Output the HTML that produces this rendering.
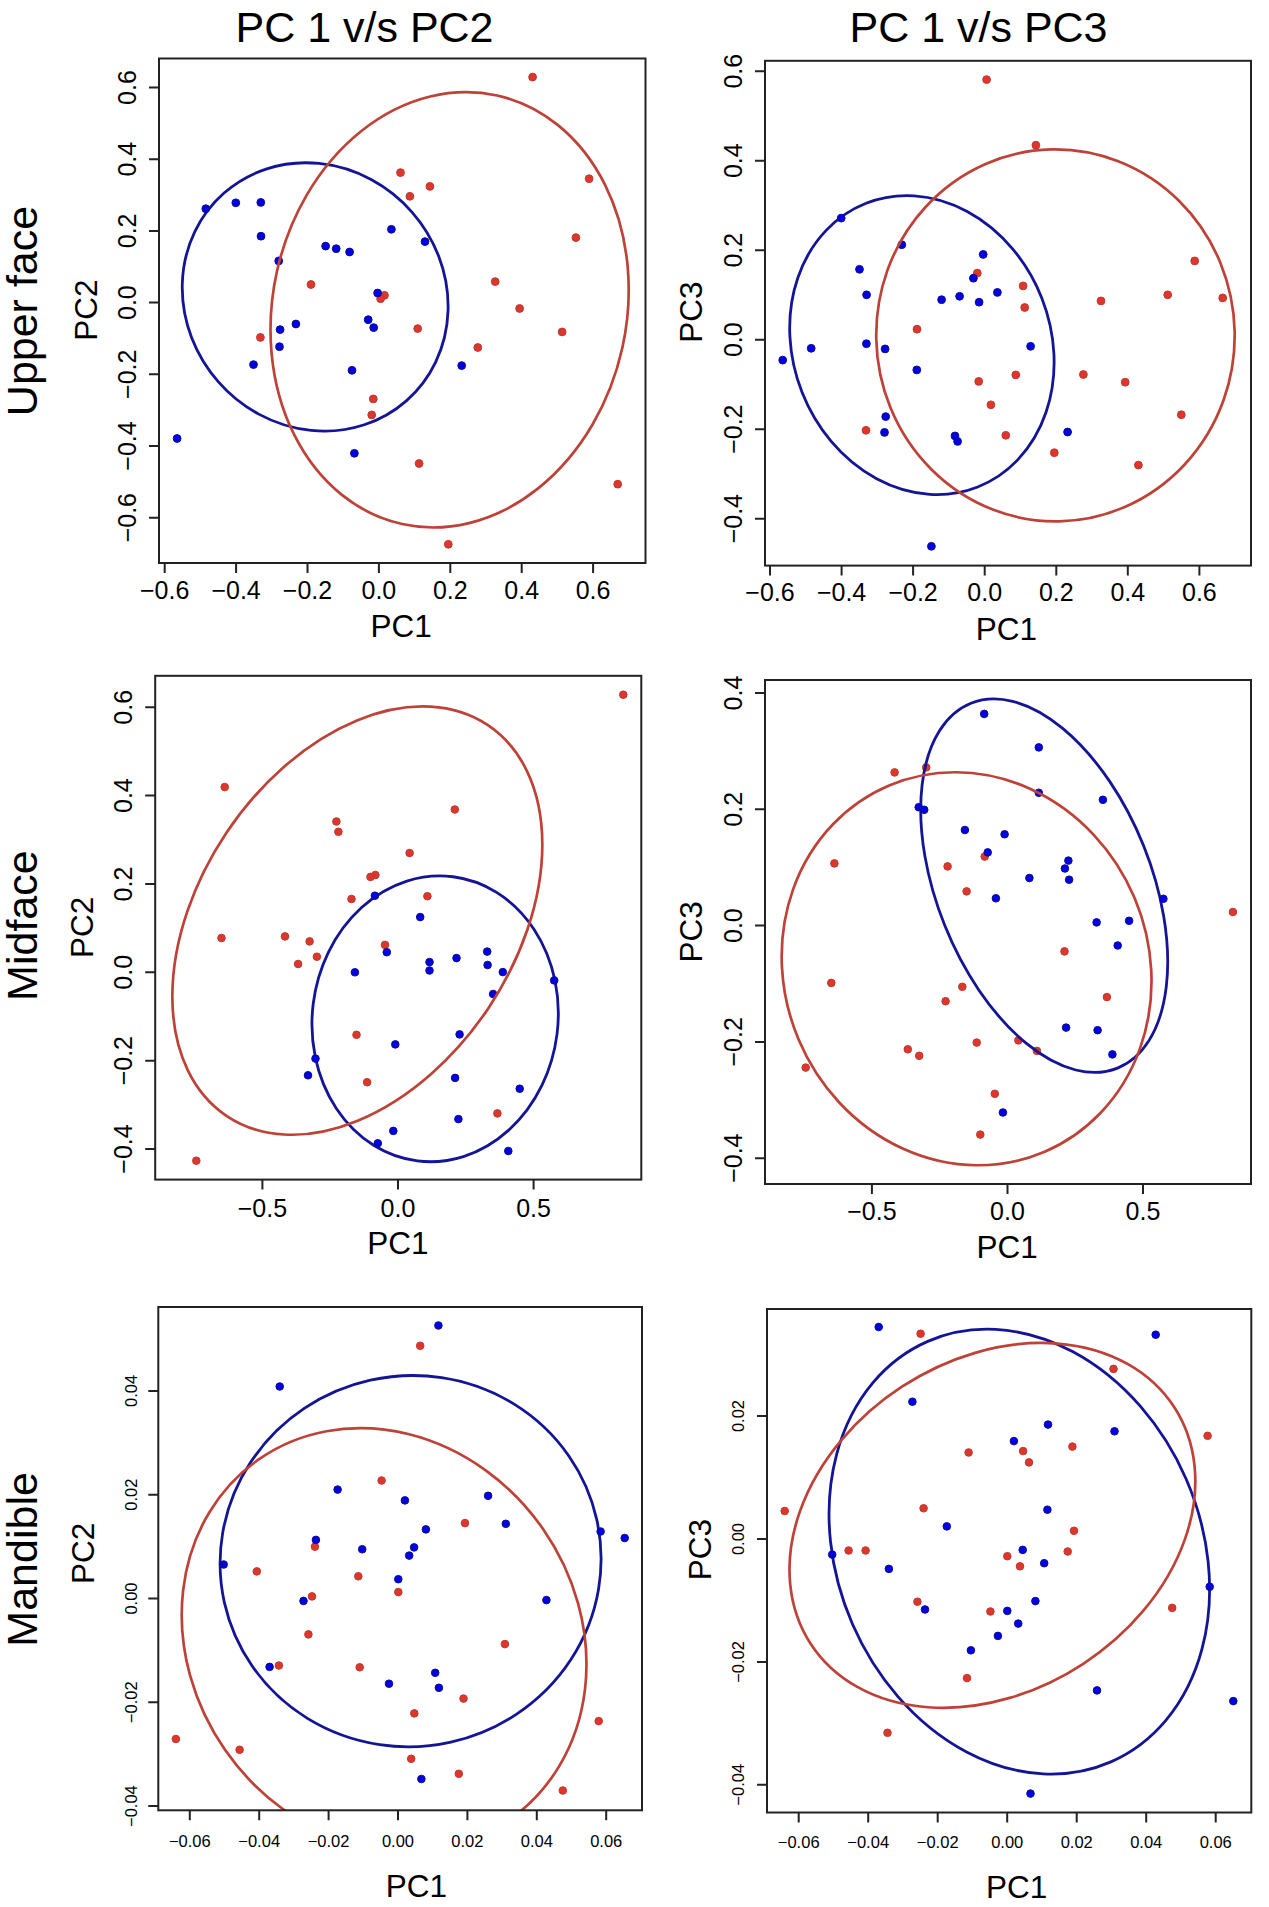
<!DOCTYPE html>
<html><head><meta charset="utf-8"><style>html,body{margin:0;padding:0;background:#fff;}svg{display:block;}text{font-family:"Liberation Sans",sans-serif;}</style></head>
<body>
<svg width="1269" height="1907" viewBox="0 0 1269 1907">
<rect width="100%" height="100%" fill="#fff"/>
<defs>
<clipPath id="cp1"><rect x="159" y="58.5" width="486.5" height="504.5"/></clipPath>
<clipPath id="cp2"><rect x="765" y="60.8" width="486.0" height="504.8"/></clipPath>
<clipPath id="cp3"><rect x="155.2" y="675.8" width="486.1" height="503.8"/></clipPath>
<clipPath id="cp4"><rect x="765" y="680" width="486.0" height="504.0"/></clipPath>
<clipPath id="cp5"><rect x="158.3" y="1307" width="483.7" height="503.3"/></clipPath>
<clipPath id="cp6"><rect x="767" y="1309" width="484.3" height="503.5"/></clipPath>
</defs>
<g fill="#000">
<text x="364.5" y="42.1" font-size="43" text-anchor="middle">PC 1 v/s PC2</text>
<text x="978.5" y="42.1" font-size="43" text-anchor="middle">PC 1 v/s PC3</text>
<text transform="translate(36.8,311) rotate(-90)" font-size="43" text-anchor="middle">Upper face</text>
<text transform="translate(36.8,925.6) rotate(-90)" font-size="43" text-anchor="middle">Midface</text>
<text transform="translate(36.8,1559.4) rotate(-90)" font-size="43" text-anchor="middle">Mandible</text>
</g>
<g fill="#e0352a" stroke="#b83c34" stroke-width="1">
<circle cx="400.5" cy="172.6" r="3.9000000000000004"/>
<circle cx="311" cy="284.5" r="3.9000000000000004"/>
<circle cx="384.5" cy="295.3" r="3.9000000000000004"/>
<circle cx="380.6" cy="298.7" r="3.9000000000000004"/>
<circle cx="532.6" cy="77.1" r="3.9000000000000004"/>
<circle cx="429.9" cy="186.4" r="3.9000000000000004"/>
<circle cx="409.9" cy="196.3" r="3.9000000000000004"/>
<circle cx="589.1" cy="178.7" r="3.9000000000000004"/>
<circle cx="575.9" cy="237.6" r="3.9000000000000004"/>
<circle cx="495.2" cy="281.6" r="3.9000000000000004"/>
<circle cx="260.4" cy="337.4" r="3.9000000000000004"/>
<circle cx="373.3" cy="398.9" r="3.9000000000000004"/>
<circle cx="371.7" cy="414.9" r="3.9000000000000004"/>
<circle cx="417.7" cy="328.6" r="3.9000000000000004"/>
<circle cx="519.6" cy="308.5" r="3.9000000000000004"/>
<circle cx="562.1" cy="331.9" r="3.9000000000000004"/>
<circle cx="477.8" cy="347.5" r="3.9000000000000004"/>
<circle cx="419.1" cy="463.5" r="3.9000000000000004"/>
<circle cx="617.7" cy="484.2" r="3.9000000000000004"/>
<circle cx="448.3" cy="544.3" r="3.9000000000000004"/>
</g>
<g clip-path="url(#cp1)"><ellipse cx="315.18" cy="296.95" rx="128.74" ry="138.19" transform="rotate(138.74 315.18 296.95)" fill="none" stroke="#141496" stroke-width="2.8"/></g>
<g fill="#0000e2" stroke="#0c0c96" stroke-width="1">
<circle cx="205.8" cy="208.7" r="3.9000000000000004"/>
<circle cx="235.8" cy="202.8" r="3.9000000000000004"/>
<circle cx="260.8" cy="202.4" r="3.9000000000000004"/>
<circle cx="261" cy="236.2" r="3.9000000000000004"/>
<circle cx="278.7" cy="260.9" r="3.9000000000000004"/>
<circle cx="325.6" cy="246.1" r="3.9000000000000004"/>
<circle cx="336.2" cy="248.7" r="3.9000000000000004"/>
<circle cx="349.6" cy="252" r="3.9000000000000004"/>
<circle cx="391.4" cy="229.3" r="3.9000000000000004"/>
<circle cx="377.6" cy="293" r="3.9000000000000004"/>
<circle cx="425" cy="241.6" r="3.9000000000000004"/>
<circle cx="295.9" cy="324" r="3.9000000000000004"/>
<circle cx="280.1" cy="329.6" r="3.9000000000000004"/>
<circle cx="279.5" cy="346.7" r="3.9000000000000004"/>
<circle cx="253.5" cy="364.6" r="3.9000000000000004"/>
<circle cx="368.2" cy="319.7" r="3.9000000000000004"/>
<circle cx="373.7" cy="327.6" r="3.9000000000000004"/>
<circle cx="352" cy="370.3" r="3.9000000000000004"/>
<circle cx="177.1" cy="438.5" r="3.9000000000000004"/>
<circle cx="354.4" cy="453.3" r="3.9000000000000004"/>
<circle cx="461.7" cy="365.6" r="3.9000000000000004"/>
</g>
<g clip-path="url(#cp1)"><ellipse cx="449.61" cy="309.79" rx="176.88" ry="219.46" transform="rotate(-167.50 449.61 309.79)" fill="none" stroke="#be4237" stroke-width="2.7"/></g>
<rect x="159" y="58.5" width="486.5" height="504.5" fill="none" stroke="#222" stroke-width="2.0"/>
<path d="M149,87.5H159M149,159.2H159M149,230.9H159M149,302.6H159M149,374.3H159M149,446.0H159M149,517.7H159M164.7,563V573M236.1,563V573M307.5,563V573M378.9,563V573M450.3,563V573M521.7,563V573M593.1,563V573" stroke="#222" stroke-width="2.0" fill="none"/>
<g font-size="25" fill="#000" text-anchor="middle">
<text x="164.7" y="598.5">−0.6</text>
<text x="236.1" y="598.5">−0.4</text>
<text x="307.5" y="598.5">−0.2</text>
<text x="378.9" y="598.5">0.0</text>
<text x="450.3" y="598.5">0.2</text>
<text x="521.7" y="598.5">0.4</text>
<text x="593.1" y="598.5">0.6</text>
<text transform="translate(136.3,87.5) rotate(-90)">0.6</text>
<text transform="translate(136.3,159.2) rotate(-90)">0.4</text>
<text transform="translate(136.3,230.9) rotate(-90)">0.2</text>
<text transform="translate(136.3,302.6) rotate(-90)">0.0</text>
<text transform="translate(136.3,374.3) rotate(-90)">−0.2</text>
<text transform="translate(136.3,446.0) rotate(-90)">−0.4</text>
<text transform="translate(136.3,517.7) rotate(-90)">−0.6</text>
</g>
<text font-size="31.5" text-anchor="middle" transform="translate(96.8,310.2) rotate(-90)">PC2</text>
<text font-size="31.5" text-anchor="middle" x="401.2" y="636.8">PC1</text>
<g fill="#e0352a" stroke="#b83c34" stroke-width="1">
<circle cx="986.6" cy="79.6" r="3.9000000000000004"/>
<circle cx="977.3" cy="273.1" r="3.9000000000000004"/>
<circle cx="1035.9" cy="145.2" r="3.9000000000000004"/>
<circle cx="1194.7" cy="260.9" r="3.9000000000000004"/>
<circle cx="1023.1" cy="285.9" r="3.9000000000000004"/>
<circle cx="1101" cy="300.9" r="3.9000000000000004"/>
<circle cx="1167.7" cy="294.8" r="3.9000000000000004"/>
<circle cx="1222.7" cy="297.9" r="3.9000000000000004"/>
<circle cx="1024.7" cy="307.5" r="3.9000000000000004"/>
<circle cx="917" cy="329.2" r="3.9000000000000004"/>
<circle cx="978.7" cy="381.4" r="3.9000000000000004"/>
<circle cx="990.9" cy="404.8" r="3.9000000000000004"/>
<circle cx="866" cy="430.3" r="3.9000000000000004"/>
<circle cx="1005.8" cy="435.3" r="3.9000000000000004"/>
<circle cx="1015.8" cy="374.9" r="3.9000000000000004"/>
<circle cx="1083.4" cy="374.5" r="3.9000000000000004"/>
<circle cx="1125.2" cy="382.2" r="3.9000000000000004"/>
<circle cx="1181.3" cy="414.7" r="3.9000000000000004"/>
<circle cx="1054.3" cy="452.7" r="3.9000000000000004"/>
<circle cx="1138.4" cy="465.1" r="3.9000000000000004"/>
</g>
<g clip-path="url(#cp2)"><ellipse cx="921.90" cy="345.12" rx="152.40" ry="128.81" transform="rotate(-111.48 921.90 345.12)" fill="none" stroke="#141496" stroke-width="2.8"/></g>
<g fill="#0000e2" stroke="#0c0c96" stroke-width="1">
<circle cx="841.2" cy="218.1" r="3.9000000000000004"/>
<circle cx="901.8" cy="244.7" r="3.9000000000000004"/>
<circle cx="983.2" cy="254.4" r="3.9000000000000004"/>
<circle cx="973.4" cy="278.2" r="3.9000000000000004"/>
<circle cx="859.5" cy="269.3" r="3.9000000000000004"/>
<circle cx="866.6" cy="294.8" r="3.9000000000000004"/>
<circle cx="941.6" cy="299.7" r="3.9000000000000004"/>
<circle cx="959.6" cy="296.3" r="3.9000000000000004"/>
<circle cx="979.1" cy="302.2" r="3.9000000000000004"/>
<circle cx="997.4" cy="292.4" r="3.9000000000000004"/>
<circle cx="866.4" cy="343.7" r="3.9000000000000004"/>
<circle cx="885.1" cy="348.9" r="3.9000000000000004"/>
<circle cx="811.2" cy="348.3" r="3.9000000000000004"/>
<circle cx="782.7" cy="360.1" r="3.9000000000000004"/>
<circle cx="916.8" cy="369.9" r="3.9000000000000004"/>
<circle cx="885.7" cy="416.6" r="3.9000000000000004"/>
<circle cx="884.5" cy="432.4" r="3.9000000000000004"/>
<circle cx="955" cy="435.9" r="3.9000000000000004"/>
<circle cx="957.6" cy="441.4" r="3.9000000000000004"/>
<circle cx="931.4" cy="546.3" r="3.9000000000000004"/>
<circle cx="1030.6" cy="346.3" r="3.9000000000000004"/>
<circle cx="1067.6" cy="432" r="3.9000000000000004"/>
</g>
<g clip-path="url(#cp2)"><ellipse cx="1055.46" cy="335.36" rx="186.02" ry="179.23" transform="rotate(-91.29 1055.46 335.36)" fill="none" stroke="#be4237" stroke-width="2.7"/></g>
<rect x="765" y="60.8" width="486.0" height="504.8" fill="none" stroke="#222" stroke-width="2.0"/>
<path d="M755,71.2H765M755,160.7H765M755,250.2H765M755,339.7H765M755,429.2H765M755,518.7H765M770.0,565.6V575.6M841.6,565.6V575.6M913.1,565.6V575.6M984.7,565.6V575.6M1056.3,565.6V575.6M1127.8,565.6V575.6M1199.4,565.6V575.6" stroke="#222" stroke-width="2.0" fill="none"/>
<g font-size="25" fill="#000" text-anchor="middle">
<text x="770.0" y="601">−0.6</text>
<text x="841.6" y="601">−0.4</text>
<text x="913.1" y="601">−0.2</text>
<text x="984.7" y="601">0.0</text>
<text x="1056.3" y="601">0.2</text>
<text x="1127.8" y="601">0.4</text>
<text x="1199.4" y="601">0.6</text>
<text transform="translate(742,71.2) rotate(-90)">0.6</text>
<text transform="translate(742,160.7) rotate(-90)">0.4</text>
<text transform="translate(742,250.2) rotate(-90)">0.2</text>
<text transform="translate(742,339.7) rotate(-90)">0.0</text>
<text transform="translate(742,429.2) rotate(-90)">−0.2</text>
<text transform="translate(742,518.7) rotate(-90)">−0.4</text>
</g>
<text font-size="31.5" text-anchor="middle" transform="translate(702.2,312.1) rotate(-90)">PC3</text>
<text font-size="31.5" text-anchor="middle" x="1006.3" y="639.5">PC1</text>
<g fill="#e0352a" stroke="#b83c34" stroke-width="1">
<circle cx="224.7" cy="787.1" r="3.8"/>
<circle cx="336.4" cy="821.5" r="3.8"/>
<circle cx="338.4" cy="831.8" r="3.8"/>
<circle cx="351.5" cy="899" r="3.8"/>
<circle cx="623.3" cy="694.7" r="3.8"/>
<circle cx="454.8" cy="809.5" r="3.8"/>
<circle cx="409.6" cy="853" r="3.8"/>
<circle cx="375.4" cy="875" r="3.8"/>
<circle cx="370.5" cy="876.9" r="3.8"/>
<circle cx="427.4" cy="896.2" r="3.8"/>
<circle cx="221.5" cy="938" r="3.8"/>
<circle cx="285" cy="936.4" r="3.8"/>
<circle cx="309.6" cy="941.4" r="3.8"/>
<circle cx="316.9" cy="956.7" r="3.8"/>
<circle cx="298.1" cy="964" r="3.8"/>
<circle cx="385" cy="944.9" r="3.8"/>
<circle cx="356.5" cy="1034.8" r="3.8"/>
<circle cx="367.1" cy="1082.2" r="3.8"/>
<circle cx="497.4" cy="1113.4" r="3.8"/>
<circle cx="196.3" cy="1160.7" r="3.8"/>
</g>
<g clip-path="url(#cp3)"><ellipse cx="435.14" cy="1018.83" rx="122.85" ry="143.20" transform="rotate(-172.84 435.14 1018.83)" fill="none" stroke="#141496" stroke-width="2.8"/></g>
<g fill="#0000e2" stroke="#0c0c96" stroke-width="1">
<circle cx="374.9" cy="895.7" r="3.8"/>
<circle cx="386.8" cy="952.2" r="3.8"/>
<circle cx="354.9" cy="972.3" r="3.8"/>
<circle cx="395.3" cy="1044.4" r="3.8"/>
<circle cx="315.5" cy="1058.6" r="3.8"/>
<circle cx="308" cy="1075.3" r="3.8"/>
<circle cx="393.3" cy="1130.9" r="3.8"/>
<circle cx="377.8" cy="1143.3" r="3.8"/>
<circle cx="420.2" cy="917.1" r="3.8"/>
<circle cx="429.5" cy="962.1" r="3.8"/>
<circle cx="429.5" cy="970.5" r="3.8"/>
<circle cx="456.5" cy="958.1" r="3.8"/>
<circle cx="487.2" cy="951.6" r="3.8"/>
<circle cx="487.6" cy="965" r="3.8"/>
<circle cx="502.8" cy="972.1" r="3.8"/>
<circle cx="493.1" cy="994" r="3.8"/>
<circle cx="554.2" cy="980.4" r="3.8"/>
<circle cx="459.6" cy="1034.4" r="3.8"/>
<circle cx="455.1" cy="1077.9" r="3.8"/>
<circle cx="519.7" cy="1088.7" r="3.8"/>
<circle cx="458.4" cy="1119.1" r="3.8"/>
<circle cx="508.3" cy="1151" r="3.8"/>
</g>
<g clip-path="url(#cp3)"><ellipse cx="357.34" cy="920.58" rx="235.03" ry="157.62" transform="rotate(-56.26 357.34 920.58)" fill="none" stroke="#be4237" stroke-width="2.7"/></g>
<rect x="155.2" y="675.8" width="486.1" height="503.8" fill="none" stroke="#222" stroke-width="2.0"/>
<path d="M145.2,707.3H155.2M145.2,795.6H155.2M145.2,884.0H155.2M145.2,972.3H155.2M145.2,1060.7H155.2M145.2,1149.0H155.2M262.4,1179.6V1189.6M398.0,1179.6V1189.6M533.6,1179.6V1189.6" stroke="#222" stroke-width="2.0" fill="none"/>
<g font-size="25" fill="#000" text-anchor="middle">
<text x="262.4" y="1217">−0.5</text>
<text x="398.0" y="1217">0.0</text>
<text x="533.6" y="1217">0.5</text>
<text transform="translate(132.2,707.3) rotate(-90)">0.6</text>
<text transform="translate(132.2,795.6) rotate(-90)">0.4</text>
<text transform="translate(132.2,884.0) rotate(-90)">0.2</text>
<text transform="translate(132.2,972.3) rotate(-90)">0.0</text>
<text transform="translate(132.2,1060.7) rotate(-90)">−0.2</text>
<text transform="translate(132.2,1149.0) rotate(-90)">−0.4</text>
</g>
<text font-size="31.5" text-anchor="middle" transform="translate(92.7,927.4) rotate(-90)">PC2</text>
<text font-size="31.5" text-anchor="middle" x="397.8" y="1253.9">PC1</text>
<g fill="#e0352a" stroke="#b83c34" stroke-width="1">
<circle cx="894.6" cy="772.4" r="3.8"/>
<circle cx="926.2" cy="767.4" r="3.8"/>
<circle cx="834.4" cy="863.4" r="3.8"/>
<circle cx="947.6" cy="866.4" r="3.8"/>
<circle cx="984.7" cy="856.6" r="3.8"/>
<circle cx="966.6" cy="891.4" r="3.8"/>
<circle cx="1232.9" cy="912" r="3.8"/>
<circle cx="831.3" cy="982.9" r="3.8"/>
<circle cx="962.3" cy="986.8" r="3.8"/>
<circle cx="945.6" cy="1001.2" r="3.8"/>
<circle cx="976.7" cy="1042.6" r="3.8"/>
<circle cx="907.8" cy="1049.3" r="3.8"/>
<circle cx="919.2" cy="1055.8" r="3.8"/>
<circle cx="805.7" cy="1067.6" r="3.8"/>
<circle cx="994.8" cy="1093.8" r="3.8"/>
<circle cx="980.3" cy="1134.6" r="3.8"/>
<circle cx="1064.5" cy="951.4" r="3.8"/>
<circle cx="1106.9" cy="997.1" r="3.8"/>
<circle cx="1018.4" cy="1040.4" r="3.8"/>
<circle cx="1036.9" cy="1050.9" r="3.8"/>
</g>
<g clip-path="url(#cp4)"><ellipse cx="1044.21" cy="885.67" rx="107.12" ry="196.62" transform="rotate(158.12 1044.21 885.67)" fill="none" stroke="#141496" stroke-width="2.8"/></g>
<g fill="#0000e2" stroke="#0c0c96" stroke-width="1">
<circle cx="918.7" cy="807.2" r="3.8"/>
<circle cx="924.2" cy="809.8" r="3.8"/>
<circle cx="984.2" cy="713.9" r="3.8"/>
<circle cx="1038.8" cy="747.4" r="3.8"/>
<circle cx="1038.8" cy="792.8" r="3.8"/>
<circle cx="1102.9" cy="799.8" r="3.8"/>
<circle cx="964.9" cy="830" r="3.8"/>
<circle cx="1004.6" cy="834.3" r="3.8"/>
<circle cx="987.7" cy="852.4" r="3.8"/>
<circle cx="1068.4" cy="860.6" r="3.8"/>
<circle cx="1064.9" cy="868.5" r="3.8"/>
<circle cx="1069.1" cy="879.7" r="3.8"/>
<circle cx="1029.4" cy="878" r="3.8"/>
<circle cx="995.9" cy="898.3" r="3.8"/>
<circle cx="1163.4" cy="898.8" r="3.8"/>
<circle cx="1002.9" cy="1112.5" r="3.8"/>
<circle cx="1096.6" cy="922.4" r="3.8"/>
<circle cx="1129.1" cy="920.8" r="3.8"/>
<circle cx="1117.7" cy="945.5" r="3.8"/>
<circle cx="1066.1" cy="1027.6" r="3.8"/>
<circle cx="1097.6" cy="1030.2" r="3.8"/>
<circle cx="1112.4" cy="1054.4" r="3.8"/>
</g>
<g clip-path="url(#cp4)"><ellipse cx="966.60" cy="968.76" rx="182.29" ry="198.95" transform="rotate(157.08 966.60 968.76)" fill="none" stroke="#be4237" stroke-width="2.7"/></g>
<rect x="765" y="680" width="486.0" height="504.0" fill="none" stroke="#222" stroke-width="2.0"/>
<path d="M755,693.0H765M755,809.3H765M755,925.6H765M755,1041.9H765M755,1158.2H765M871.9,1184V1194M1007.5,1184V1194M1143.0,1184V1194" stroke="#222" stroke-width="2.0" fill="none"/>
<g font-size="25" fill="#000" text-anchor="middle">
<text x="871.9" y="1220">−0.5</text>
<text x="1007.5" y="1220">0.0</text>
<text x="1143.0" y="1220">0.5</text>
<text transform="translate(741.5,693.0) rotate(-90)">0.4</text>
<text transform="translate(741.5,809.3) rotate(-90)">0.2</text>
<text transform="translate(741.5,925.6) rotate(-90)">0.0</text>
<text transform="translate(741.5,1041.9) rotate(-90)">−0.2</text>
<text transform="translate(741.5,1158.2) rotate(-90)">−0.4</text>
</g>
<text font-size="31.5" text-anchor="middle" transform="translate(702.2,931.8) rotate(-90)">PC3</text>
<text font-size="31.5" text-anchor="middle" x="1007.2" y="1257.8">PC1</text>
<g fill="#e0352a" stroke="#b83c34" stroke-width="1">
<circle cx="420.2" cy="1345.8" r="3.8"/>
<circle cx="381.6" cy="1480.5" r="3.8"/>
<circle cx="465" cy="1523.1" r="3.8"/>
<circle cx="314.9" cy="1546.7" r="3.8"/>
<circle cx="256.8" cy="1571.4" r="3.8"/>
<circle cx="358.3" cy="1576.3" r="3.8"/>
<circle cx="312" cy="1596.4" r="3.8"/>
<circle cx="308.4" cy="1634.4" r="3.8"/>
<circle cx="278.9" cy="1665.5" r="3.8"/>
<circle cx="359.7" cy="1667.3" r="3.8"/>
<circle cx="175.9" cy="1739" r="3.8"/>
<circle cx="239.6" cy="1749.8" r="3.8"/>
<circle cx="398.3" cy="1592.1" r="3.8"/>
<circle cx="504.9" cy="1644.1" r="3.8"/>
<circle cx="463.5" cy="1698.6" r="3.8"/>
<circle cx="414.3" cy="1713.4" r="3.8"/>
<circle cx="598.7" cy="1721.1" r="3.8"/>
<circle cx="411.2" cy="1758.8" r="3.8"/>
<circle cx="458.8" cy="1773.8" r="3.8"/>
<circle cx="562.8" cy="1790.5" r="3.8"/>
</g>
<g clip-path="url(#cp5)"><ellipse cx="410.59" cy="1561.16" rx="190.75" ry="185.36" transform="rotate(167.44 410.59 1561.16)" fill="none" stroke="#141496" stroke-width="2.8"/></g>
<g fill="#0000e2" stroke="#0c0c96" stroke-width="1">
<circle cx="279.7" cy="1386.5" r="3.8"/>
<circle cx="337.6" cy="1489.6" r="3.8"/>
<circle cx="438.4" cy="1325.5" r="3.8"/>
<circle cx="404.9" cy="1500.4" r="3.8"/>
<circle cx="488.1" cy="1495.8" r="3.8"/>
<circle cx="425.9" cy="1529.4" r="3.8"/>
<circle cx="505.8" cy="1523.8" r="3.8"/>
<circle cx="600.6" cy="1531.5" r="3.8"/>
<circle cx="624.7" cy="1538" r="3.8"/>
<circle cx="315.9" cy="1539.9" r="3.8"/>
<circle cx="362.2" cy="1549.3" r="3.8"/>
<circle cx="223.7" cy="1564.5" r="3.8"/>
<circle cx="303.5" cy="1600.9" r="3.8"/>
<circle cx="269.6" cy="1666.9" r="3.8"/>
<circle cx="389" cy="1683.7" r="3.8"/>
<circle cx="414.1" cy="1547.4" r="3.8"/>
<circle cx="409.2" cy="1555.6" r="3.8"/>
<circle cx="398.3" cy="1579.2" r="3.8"/>
<circle cx="546.4" cy="1600.1" r="3.8"/>
<circle cx="435.2" cy="1672.8" r="3.8"/>
<circle cx="438.9" cy="1687.8" r="3.8"/>
<circle cx="421.4" cy="1779" r="3.8"/>
</g>
<g clip-path="url(#cp5)"><ellipse cx="384.09" cy="1639.54" rx="219.45" ry="193.62" transform="rotate(-124.73 384.09 1639.54)" fill="none" stroke="#be4237" stroke-width="2.7"/></g>
<rect x="158.3" y="1307" width="483.7" height="503.3" fill="none" stroke="#222" stroke-width="2.0"/>
<path d="M148.3,1390.9H158.3M148.3,1494.7H158.3M148.3,1598.5H158.3M148.3,1702.3H158.3M148.3,1806.1H158.3M189.8,1810.3V1820.3M259.2,1810.3V1820.3M328.6,1810.3V1820.3M398.0,1810.3V1820.3M467.4,1810.3V1820.3M536.8,1810.3V1820.3M606.2,1810.3V1820.3" stroke="#222" stroke-width="2.0" fill="none"/>
<g font-size="16.5" fill="#000" text-anchor="middle">
<text x="189.8" y="1846.5">−0.06</text>
<text x="259.2" y="1846.5">−0.04</text>
<text x="328.6" y="1846.5">−0.02</text>
<text x="398.0" y="1846.5">0.00</text>
<text x="467.4" y="1846.5">0.02</text>
<text x="536.8" y="1846.5">0.04</text>
<text x="606.2" y="1846.5">0.06</text>
<text transform="translate(136.5,1390.9) rotate(-90)">0.04</text>
<text transform="translate(136.5,1494.7) rotate(-90)">0.02</text>
<text transform="translate(136.5,1598.5) rotate(-90)">0.00</text>
<text transform="translate(136.5,1702.3) rotate(-90)">−0.02</text>
<text transform="translate(136.5,1806.1) rotate(-90)">−0.04</text>
</g>
<text font-size="31.5" text-anchor="middle" transform="translate(94.1,1553.3) rotate(-90)">PC2</text>
<text font-size="31.5" text-anchor="middle" x="416.4" y="1896.8">PC1</text>
<g fill="#e0352a" stroke="#b83c34" stroke-width="1">
<circle cx="920.6" cy="1333.7" r="3.8"/>
<circle cx="784.7" cy="1511" r="3.8"/>
<circle cx="923.6" cy="1508.3" r="3.8"/>
<circle cx="1113.5" cy="1368.9" r="3.8"/>
<circle cx="968.6" cy="1452.5" r="3.8"/>
<circle cx="1023.1" cy="1451.1" r="3.8"/>
<circle cx="1029" cy="1462.4" r="3.8"/>
<circle cx="1072.4" cy="1446.6" r="3.8"/>
<circle cx="1074" cy="1530.8" r="3.8"/>
<circle cx="1207.6" cy="1435.8" r="3.8"/>
<circle cx="848.6" cy="1550.5" r="3.8"/>
<circle cx="865.6" cy="1550.5" r="3.8"/>
<circle cx="917.4" cy="1601.7" r="3.8"/>
<circle cx="990.4" cy="1611.5" r="3.8"/>
<circle cx="967" cy="1678.1" r="3.8"/>
<circle cx="887.5" cy="1732.8" r="3.8"/>
<circle cx="1007.3" cy="1556.2" r="3.8"/>
<circle cx="1020" cy="1566.3" r="3.8"/>
<circle cx="1067.7" cy="1551.5" r="3.8"/>
<circle cx="1172.2" cy="1607.9" r="3.8"/>
</g>
<g clip-path="url(#cp6)"><ellipse cx="1019.32" cy="1551.63" rx="181.93" ry="229.34" transform="rotate(156.47 1019.32 1551.63)" fill="none" stroke="#141496" stroke-width="2.8"/></g>
<g fill="#0000e2" stroke="#0c0c96" stroke-width="1">
<circle cx="878.7" cy="1327" r="3.8"/>
<circle cx="912.4" cy="1401.7" r="3.8"/>
<circle cx="946.8" cy="1526.4" r="3.8"/>
<circle cx="1155.7" cy="1334.7" r="3.8"/>
<circle cx="1048" cy="1424.6" r="3.8"/>
<circle cx="1114.5" cy="1431.3" r="3.8"/>
<circle cx="1013.9" cy="1441.1" r="3.8"/>
<circle cx="1047.4" cy="1509.7" r="3.8"/>
<circle cx="832.2" cy="1554.6" r="3.8"/>
<circle cx="888.9" cy="1568.9" r="3.8"/>
<circle cx="925" cy="1609.5" r="3.8"/>
<circle cx="997.9" cy="1635.9" r="3.8"/>
<circle cx="970.9" cy="1650.3" r="3.8"/>
<circle cx="1022.7" cy="1549.9" r="3.8"/>
<circle cx="1044.2" cy="1563.2" r="3.8"/>
<circle cx="1209.7" cy="1586.8" r="3.8"/>
<circle cx="1035.4" cy="1601.1" r="3.8"/>
<circle cx="1007.3" cy="1610.9" r="3.8"/>
<circle cx="1018.2" cy="1623.6" r="3.8"/>
<circle cx="1097" cy="1690.4" r="3.8"/>
<circle cx="1233.3" cy="1701.1" r="3.8"/>
<circle cx="1030.5" cy="1793.6" r="3.8"/>
</g>
<g clip-path="url(#cp6)"><ellipse cx="992.40" cy="1525.38" rx="216.87" ry="165.56" transform="rotate(146.87 992.40 1525.38)" fill="none" stroke="#be4237" stroke-width="2.7"/></g>
<rect x="767" y="1309" width="484.3" height="503.5" fill="none" stroke="#222" stroke-width="2.0"/>
<path d="M757,1416.0H767M757,1539.0H767M757,1661.9H767M757,1784.8H767M798.7,1812.5V1822.5M868.2,1812.5V1822.5M937.7,1812.5V1822.5M1007.2,1812.5V1822.5M1076.7,1812.5V1822.5M1146.2,1812.5V1822.5M1215.7,1812.5V1822.5" stroke="#222" stroke-width="2.0" fill="none"/>
<g font-size="16.5" fill="#000" text-anchor="middle">
<text x="798.7" y="1848.3">−0.06</text>
<text x="868.2" y="1848.3">−0.04</text>
<text x="937.7" y="1848.3">−0.02</text>
<text x="1007.2" y="1848.3">0.00</text>
<text x="1076.7" y="1848.3">0.02</text>
<text x="1146.2" y="1848.3">0.04</text>
<text x="1215.7" y="1848.3">0.06</text>
<text transform="translate(743.5,1416.0) rotate(-90)">0.02</text>
<text transform="translate(743.5,1539.0) rotate(-90)">0.00</text>
<text transform="translate(743.5,1661.9) rotate(-90)">−0.02</text>
<text transform="translate(743.5,1784.8) rotate(-90)">−0.04</text>
</g>
<text font-size="31.5" text-anchor="middle" transform="translate(710.5,1549.7) rotate(-90)">PC3</text>
<text font-size="31.5" text-anchor="middle" x="1016.6" y="1897.7">PC1</text>
</svg>
</body></html>
